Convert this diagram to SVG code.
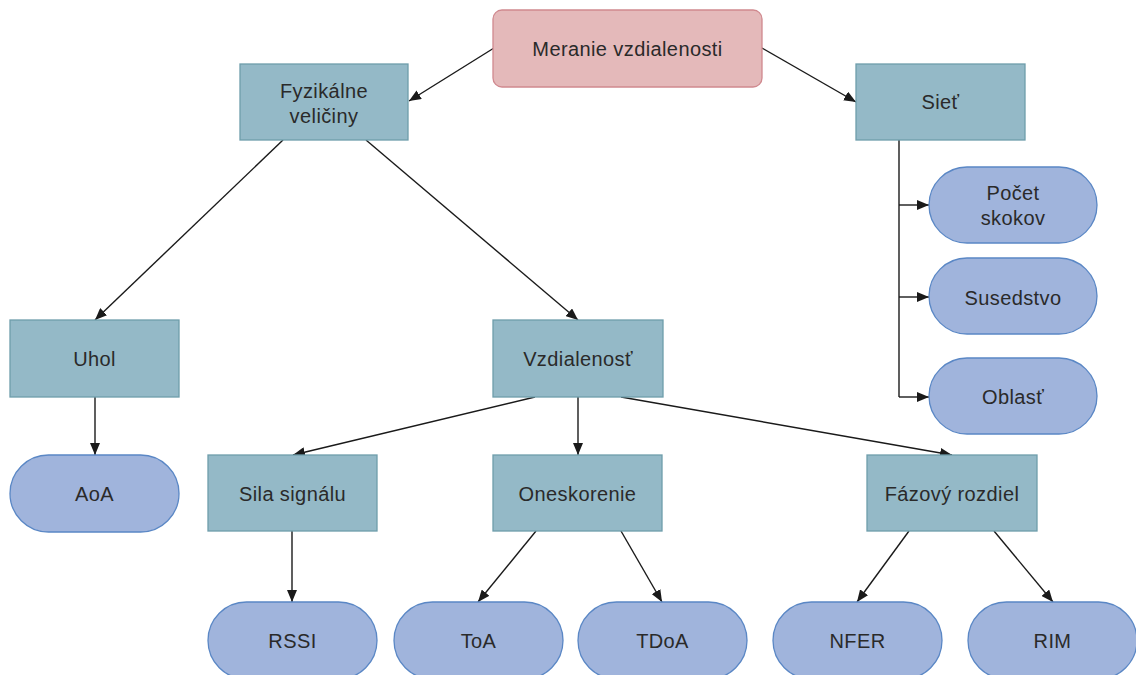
<svg xmlns="http://www.w3.org/2000/svg" width="1136" height="675" viewBox="0 0 1136 675">
<defs>
<marker id="ah" viewBox="0 0 12 10" refX="12" refY="5" markerWidth="12" markerHeight="10" markerUnits="userSpaceOnUse" orient="auto">
<path d="M0,0 L12,5 L0,10 z" fill="#1a1a1a"/>
</marker>
</defs>
<style>
.root{fill:#e4b9ba;stroke:#d0898f;stroke-width:1.3}
.box{fill:#94b9c7;stroke:#6e9dab;stroke-width:1.3}
.pill{fill:#a0b4dc;stroke:#5a87c5;stroke-width:1.3}
text{font-family:"Liberation Sans",Arial,sans-serif;font-size:20px;letter-spacing:0.4px;fill:#2a2a2a;text-anchor:middle}
.c line,.c path{stroke:#1a1a1a;stroke-width:1.4;fill:none}
</style>
<rect width="1136" height="675" fill="#ffffff"/>
<g class="c" id="connectors">
<line x1="494" y1="48" x2="409" y2="101" marker-end="url(#ah)"/>
<line x1="762" y1="48" x2="856" y2="102" marker-end="url(#ah)"/>
<line x1="283" y1="140" x2="95" y2="320" marker-end="url(#ah)"/>
<line x1="366" y1="140" x2="578" y2="320" marker-end="url(#ah)"/>
<line x1="95" y1="397" x2="95" y2="455" marker-end="url(#ah)"/>
<line x1="535" y1="397" x2="293" y2="455" marker-end="url(#ah)"/>
<line x1="578" y1="397" x2="578" y2="455" marker-end="url(#ah)"/>
<line x1="621" y1="397" x2="952" y2="455" marker-end="url(#ah)"/>
<line x1="292" y1="531" x2="292" y2="602" marker-end="url(#ah)"/>
<line x1="536" y1="531" x2="478" y2="602" marker-end="url(#ah)"/>
<line x1="621" y1="531" x2="662" y2="602" marker-end="url(#ah)"/>
<line x1="909" y1="531" x2="857" y2="602" marker-end="url(#ah)"/>
<line x1="994" y1="531" x2="1053" y2="602" marker-end="url(#ah)"/>
<path d="M899,140 V397"/>
<line x1="899" y1="205" x2="929" y2="205" marker-end="url(#ah)"/>
<line x1="899" y1="297" x2="929" y2="297" marker-end="url(#ah)"/>
<line x1="899" y1="397" x2="929" y2="397" marker-end="url(#ah)"/>
</g>
<g id="n-meranie"><rect class="root" x="493" y="10" width="269" height="77" rx="9"/><text x="627.5" y="56">Meranie vzdialenosti</text></g>
<g id="n-fyzikalne"><rect class="box" x="240" y="64" width="168" height="76"/><text x="324" y="98">Fyzikálne</text><text x="324" y="123">veličiny</text></g>
<g id="n-siet"><rect class="box" x="856" y="64" width="169" height="76"/><text x="940.5" y="109">Sieť</text></g>
<g id="n-uhol"><rect class="box" x="10" y="320" width="169" height="77"/><text x="94.5" y="366">Uhol</text></g>
<g id="n-vzdialenost"><rect class="box" x="493" y="320" width="170" height="77"/><text x="578" y="366">Vzdialenosť</text></g>
<g id="n-aoa"><rect class="pill" x="10" y="455" width="169" height="77" rx="38.5"/><text x="94.5" y="501">AoA</text></g>
<g id="n-sila"><rect class="box" x="208" y="455" width="169" height="76"/><text x="292.5" y="501">Sila signálu</text></g>
<g id="n-oneskorenie"><rect class="box" x="493" y="455" width="169" height="76"/><text x="577.5" y="501">Oneskorenie</text></g>
<g id="n-fazovy"><rect class="box" x="867" y="455" width="170" height="76"/><text x="952" y="501">Fázový rozdiel</text></g>
<g id="n-pocet"><rect class="pill" x="929" y="167" width="168" height="76" rx="38"/><text x="1013" y="200">Počet</text><text x="1013" y="225">skokov</text></g>
<g id="n-susedstvo"><rect class="pill" x="929" y="258" width="168" height="76" rx="38"/><text x="1013" y="305">Susedstvo</text></g>
<g id="n-oblast"><rect class="pill" x="929" y="358" width="168" height="76" rx="38"/><text x="1013" y="404">Oblasť</text></g>
<g id="n-rssi"><rect class="pill" x="208" y="602" width="169" height="77" rx="38.5"/><text x="292.5" y="648">RSSI</text></g>
<g id="n-toa"><rect class="pill" x="394" y="602" width="169" height="77" rx="38.5"/><text x="478.5" y="648">ToA</text></g>
<g id="n-tdoa"><rect class="pill" x="578" y="602" width="169" height="77" rx="38.5"/><text x="662.5" y="648">TDoA</text></g>
<g id="n-nfer"><rect class="pill" x="773" y="602" width="169" height="77" rx="38.5"/><text x="857.5" y="648">NFER</text></g>
<g id="n-rim"><rect class="pill" x="968" y="602" width="169" height="77" rx="38.5"/><text x="1052.5" y="648">RIM</text></g>
</svg>
